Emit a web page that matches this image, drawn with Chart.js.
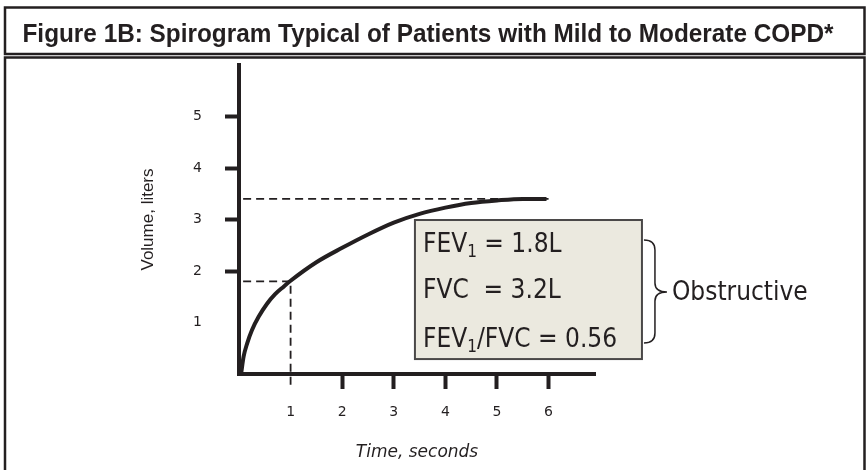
<!DOCTYPE html>
<html>
<head>
<meta charset="utf-8">
<script src="https://cdn.jsdelivr.net/npm/chart.js@4.4.1/dist/chart.umd.min.js"></script>
<style>
  html, body { margin: 0; padding: 0; background: #fff; }
  #wrap { width: 867px; height: 470px; }
</style>
</head>
<body>
<div id="wrap"><canvas id="spiroChart" width="867" height="470"></canvas></div>
<script>
// Spirogram typical of mild to moderate COPD
var figureTitle = "Figure 1B: Spirogram Typical of Patients with Mild to Moderate COPD*";
var timeSec = [0.04, 0.09, 0.16, 0.25, 0.38, 0.54, 0.70, 0.87, 1.0, 1.5, 2.0, 2.5, 3.0, 3.5, 4.0, 4.5, 5.0, 5.5, 5.96];
var volumeL = [0, 0.34, 0.60, 0.85, 1.11, 1.36, 1.55, 1.70, 1.81, 2.17, 2.45, 2.71, 2.94, 3.11, 3.23, 3.32, 3.37, 3.40, 3.40];
var xTicks = [1, 2, 3, 4, 5, 6];
var yTicks = [1, 2, 3, 4, 5];
var fev1 = { x: 1, y: 1.8 };
var fvc = { x: 6, y: 3.4 };
// text parts: [text, isSubscript]
var boxLines = [
  [["FEV", 0], ["1", 1], [" = 1.8L", 0]],
  [["FVC  = 3.2L", 0]],
  [["FEV", 0], ["1", 1], ["/FVC = 0.56", 0]]
];
var braceLabel = "Obstructive";

var ink = '#231f20';
var boxFont = '26px "DejaVu Sans Condensed", "DejaVu Sans", sans-serif';
var subFont = '17px "DejaVu Sans Condensed", "DejaVu Sans", sans-serif';

var curve = timeSec.map(function (t, i) { return { x: t, y: volumeL[i] }; });
var fev1Guide = [{ x: 0.08, y: fev1.y }, { x: fev1.x, y: fev1.y }, { x: fev1.x, y: -0.28 }];
var fvcGuide = [{ x: 0.08, y: fvc.y }, { x: fvc.x, y: fvc.y }];

function drawParts(ctx, parts, x, y) {
  parts.forEach(function (p) {
    ctx.font = p[1] ? subFont : boxFont;
    ctx.fillText(p[0], x, p[1] ? y + 5 : y);
    x += ctx.measureText(p[0]).width;
  });
}

var framePlugin = {
  id: 'frame',
  beforeDraw: function (chart) {
    var ctx = chart.ctx;
    ctx.save();
    ctx.fillStyle = '#fff';
    ctx.fillRect(0, 0, chart.width, chart.height);
    ctx.strokeStyle = ink;
    ctx.lineWidth = 2.5;
    ctx.strokeRect(5, 7.5, 859.5, 46.5);
    ctx.beginPath();
    ctx.moveTo(5, 480);
    ctx.lineTo(5, 57.5);
    ctx.lineTo(864.5, 57.5);
    ctx.lineTo(864.5, 480);
    ctx.stroke();
    ctx.fillStyle = ink;
    ctx.font = 'bold 25px "Liberation Sans", sans-serif';
    ctx.textAlign = 'center';
    ctx.textBaseline = 'alphabetic';
    ctx.fillText(figureTitle, 428, 42, 811);
    ctx.restore();
  },
  afterDatasetsDraw: function (chart) {
    var ctx = chart.ctx, xs = chart.scales.x, ys = chart.scales.y;
    var left = xs.getPixelForValue(3.41), right = xs.getPixelForValue(7.81);
    var top = ys.getPixelForValue(2.99), bottom = ys.getPixelForValue(0.29);
    ctx.save();
    ctx.fillStyle = '#ebe9df';
    ctx.fillRect(left, top, right - left, bottom - top);
    ctx.strokeStyle = '#4a4848';
    ctx.lineWidth = 2;
    ctx.strokeRect(left, top, right - left, bottom - top);

    ctx.fillStyle = ink;
    ctx.textAlign = 'left';
    ctx.textBaseline = 'alphabetic';
    var baselines = [32, 78, 127];
    boxLines.forEach(function (parts, i) {
      drawParts(ctx, parts, left + 8, top + baselines[i]);
    });

    // brace
    var bx = right + 2, bt = top + 20, bb = bottom - 16, mid = (bt + bb) / 2 + 0.5;
    var vx = bx + 11, tip = bx + 23;
    ctx.strokeStyle = ink;
    ctx.lineWidth = 1.5;
    ctx.beginPath();
    ctx.moveTo(bx, bt);
    ctx.quadraticCurveTo(vx, bt, vx, bt + 10);
    ctx.lineTo(vx, mid - 9);
    ctx.quadraticCurveTo(vx, mid, tip, mid);
    ctx.quadraticCurveTo(vx, mid, vx, mid + 9);
    ctx.lineTo(vx, bb - 10);
    ctx.quadraticCurveTo(vx, bb, bx, bb);
    ctx.stroke();

    ctx.font = boxFont;
    ctx.textBaseline = 'middle';
    ctx.fillText(braceLabel, tip + 5, mid + 1);
    ctx.restore();
  }
};

function tickInk(c) {
  return c.tick && c.tick.value === 1 ? 'rgba(0,0,0,0)' : ink;
}

var chartEl = document.getElementById('spiroChart');
var spiroChart = new Chart(chartEl, {
  type: 'line',
  data: {
    datasets: [{
      data: curve,
      borderColor: ink,
      borderWidth: 4,
      pointRadius: 0,
      cubicInterpolationMode: 'monotone',
      fill: false,
      clip: false
    }, {
      data: fev1Guide,
      borderColor: ink,
      borderWidth: 1.8,
      borderDash: [8, 5],
      pointRadius: 0,
      tension: 0,
      fill: false,
      clip: false
    }, {
      data: fvcGuide,
      borderColor: ink,
      borderWidth: 1.8,
      borderDash: [8, 5],
      pointRadius: 0,
      tension: 0,
      fill: false,
      clip: false
    }]
  },
  options: {
    responsive: false,
    animation: false,
    layout: { padding: { left: 134, right: 272, top: 65, bottom: 3 } },
    plugins: {
      legend: { display: false },
      tooltip: { enabled: false }
    },
    scales: {
      x: {
        type: 'linear',
        min: 0,
        max: 6.9,
        afterFit: function (s) { s.height = 93; },
        afterBuildTicks: function (s) { s.ticks = xTicks.map(function (v) { return { value: v }; }); },
        grid: { drawOnChartArea: false, tickLength: 15, tickWidth: 4, tickColor: tickInk },
        border: { color: ink, width: 4 },
        ticks: { color: ink, padding: 15, font: { family: 'DejaVu Sans', size: 14 } },
        title: {
          display: true,
          text: 'Time, seconds',
          color: ink,
          padding: 4,
          font: { family: 'DejaVu Sans', size: 17, style: 'italic' }
        }
      },
      y: {
        type: 'linear',
        min: 0,
        max: 6,
        afterFit: function (s) { s.width = 105; },
        afterBuildTicks: function (s) { s.ticks = yTicks.map(function (v) { return { value: v }; }); },
        grid: { drawOnChartArea: false, tickLength: 14, tickWidth: 4, tickColor: tickInk },
        border: { color: ink, width: 4 },
        ticks: { color: ink, padding: 23, font: { family: 'DejaVu Sans', size: 14 } },
        title: {
          display: true,
          text: 'Volume, liters',
          color: ink,
          padding: 4,
          font: { family: 'Liberation Sans', size: 17 }
        }
      }
    }
  },
  plugins: [framePlugin]
});
</script>
</body>
</html>
